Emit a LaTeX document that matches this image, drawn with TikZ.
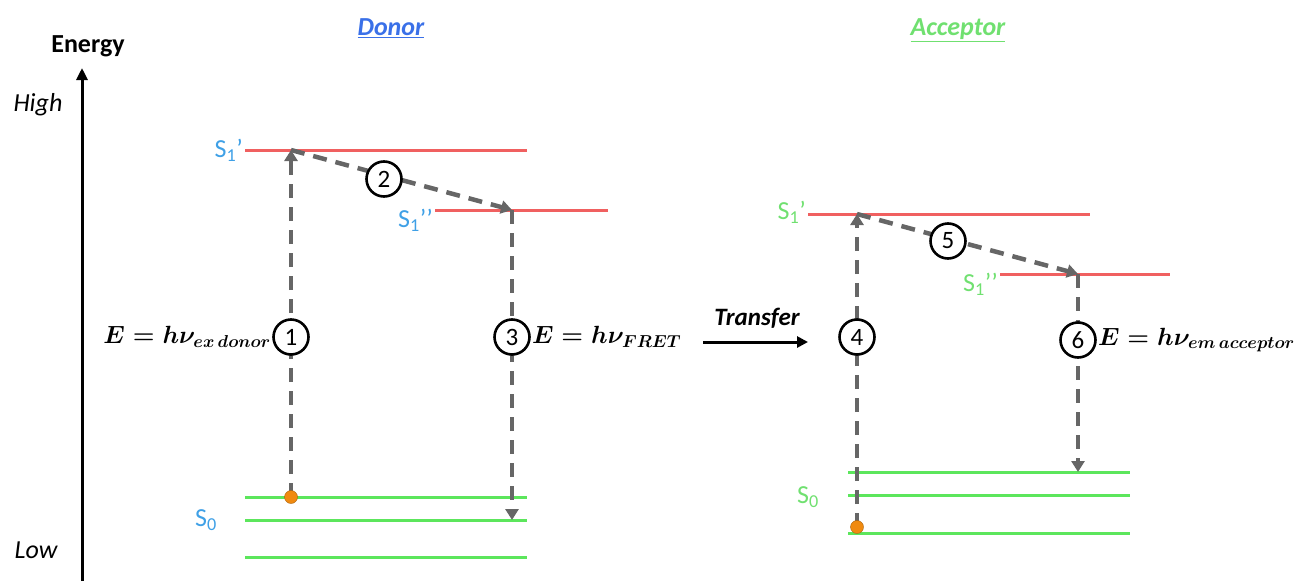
\documentclass[tikz,border=0pt]{standalone}
\usepackage{fontspec}
\setmainfont{Carlito}
\usetikzlibrary{arrows.meta}
\definecolor{lvred}{HTML}{F06060}
\definecolor{lvgreen}{HTML}{5CE65C}
\definecolor{lblblue}{HTML}{3FA0E6}
\definecolor{ttlblue}{HTML}{3A70E8}
\definecolor{lblgreen}{HTML}{70E070}
\definecolor{dgray}{HTML}{666666}
\definecolor{ballc}{HTML}{F08A10}
\tikzset{
  red level/.style={draw=lvred, line width=3pt},
  green level/.style={draw=lvgreen, line width=3pt},
  trans/.style={draw=dgray, line width=4.5pt, dash pattern=on 14pt off 9pt, -{Triangle[length=11pt,width=13pt]}},
  numc/.style={circle, draw=black, line width=2.6pt, fill=white, minimum size=35pt, inner sep=0pt, font=\fontsize{25}{27}\selectfont},
  lvlabel/.style={font=\fontsize{26}{28}\selectfont},
  eqlabel/.style={font=\fontsize{27}{30}\selectfont\boldmath, inner sep=1pt},
  ball/.style={circle, fill=ballc, draw=ballc!70!black, minimum size=13pt, inner sep=0pt}
}
\begin{document}
\begin{tikzpicture}[x=1pt,y=-1pt]
\useasboundingbox (0,0) rectangle (1306,581);
% energy axis
\coordinate (axlow) at (82,581);
\coordinate (axhigh) at (82,68);
\draw[line width=3pt, -{Triangle[length=12pt,width=11pt]}] (axlow) -- (axhigh);
\node[font=\fontsize{26}{28}\selectfont\bfseries] (energy) at (88,46) {Energy};
\node[font=\fontsize{26}{28}\selectfont\itshape] (high) at (38,105) {High};
\node[font=\fontsize{26}{28}\selectfont\itshape] (low) at (36,550) {Low};
% titles
\node[font=\fontsize{26}{28}\selectfont\bfseries\itshape, text=ttlblue] (donor) at (391,28) {\underline{Donor}};
\node[font=\fontsize{26}{28}\selectfont\bfseries\itshape, text=lblgreen] (acceptor) at (958,30) {\underline{Acceptor}};
% donor levels
\draw[red level] (245,150) -- (527,150);
\draw[red level] (435,210) -- (608,210);
\draw[green level] (245,497) -- (527,497);
\draw[green level] (245,520) -- (527,520);
\draw[green level] (245,557) -- (527,557);
\node[lvlabel, text=lblblue, anchor=east, inner sep=1pt] (ds1p) at (244,150) {S\textsubscript{1}’};
\node[lvlabel, text=lblblue, anchor=east, inner sep=1pt] (ds1pp) at (434,220) {S\textsubscript{1}’’};
\node[lvlabel, text=lblblue] (ds0) at (206,520) {S\textsubscript{0}};
% donor points
\coordinate (dg) at (291,497);
\coordinate (dtop) at (291,150);
\coordinate (dmid) at (512,210);
\coordinate (dbot) at (512,520);
\draw[trans] (dg) -- (dtop);
\draw[trans] (dtop) -- (dmid);
\draw[trans] (dmid) -- (dbot);
\node[ball] (dball) at (291,497) {};
\node[numc] (c1) at (291,337) {1};
\node[numc] (c2) at (384,179) {2};
\node[numc] (c3) at (512,337) {3};
\node[eqlabel, anchor=east] (eq1) at (c1.west) {$E = h\nu_{ex\,donor}$};
\node[eqlabel, anchor=west] (eq3) at (c3.east) {$E = h\nu_{FRET}$};
% transfer
\coordinate (tra) at (703,342);
\coordinate (trb) at (808,342);
\draw[line width=3pt, -{Triangle[length=11pt,width=11pt]}] (tra) -- (trb);
\node[font=\fontsize{25}{27}\selectfont\bfseries\itshape] (transfer) at (757,318) {Transfer};
% acceptor levels
\draw[red level] (808,214) -- (1090,214);
\draw[red level] (1000,274) -- (1170,274);
\draw[green level] (848,472) -- (1130,472);
\draw[green level] (848,495) -- (1130,495);
\draw[green level] (848,533) -- (1130,533);
\node[lvlabel, text=lblgreen, anchor=east, inner sep=1pt] (as1p) at (807,212) {S\textsubscript{1}’};
\node[lvlabel, text=lblgreen, anchor=east, inner sep=1pt] (as1pp) at (999,284) {S\textsubscript{1}’’};
\node[lvlabel, text=lblgreen] (as0) at (808,497) {S\textsubscript{0}};
\coordinate (ag) at (857,527);
\coordinate (atop) at (857,214);
\coordinate (amid) at (1078,274);
\coordinate (abot) at (1078,472);
\draw[trans] (ag) -- (atop);
\draw[trans] (atop) -- (amid);
\draw[trans] (amid) -- (abot);
\node[ball] (aball) at (857,527) {};
\node[numc] (c4) at (857,337) {4};
\node[numc] (c5) at (948,241) {5};
\node[numc] (c6) at (1078,340) {6};
\node[eqlabel, anchor=west] (eq6) at (c6.east) {$E = h\nu_{em\,acceptor}$};
\end{tikzpicture}
\end{document}
